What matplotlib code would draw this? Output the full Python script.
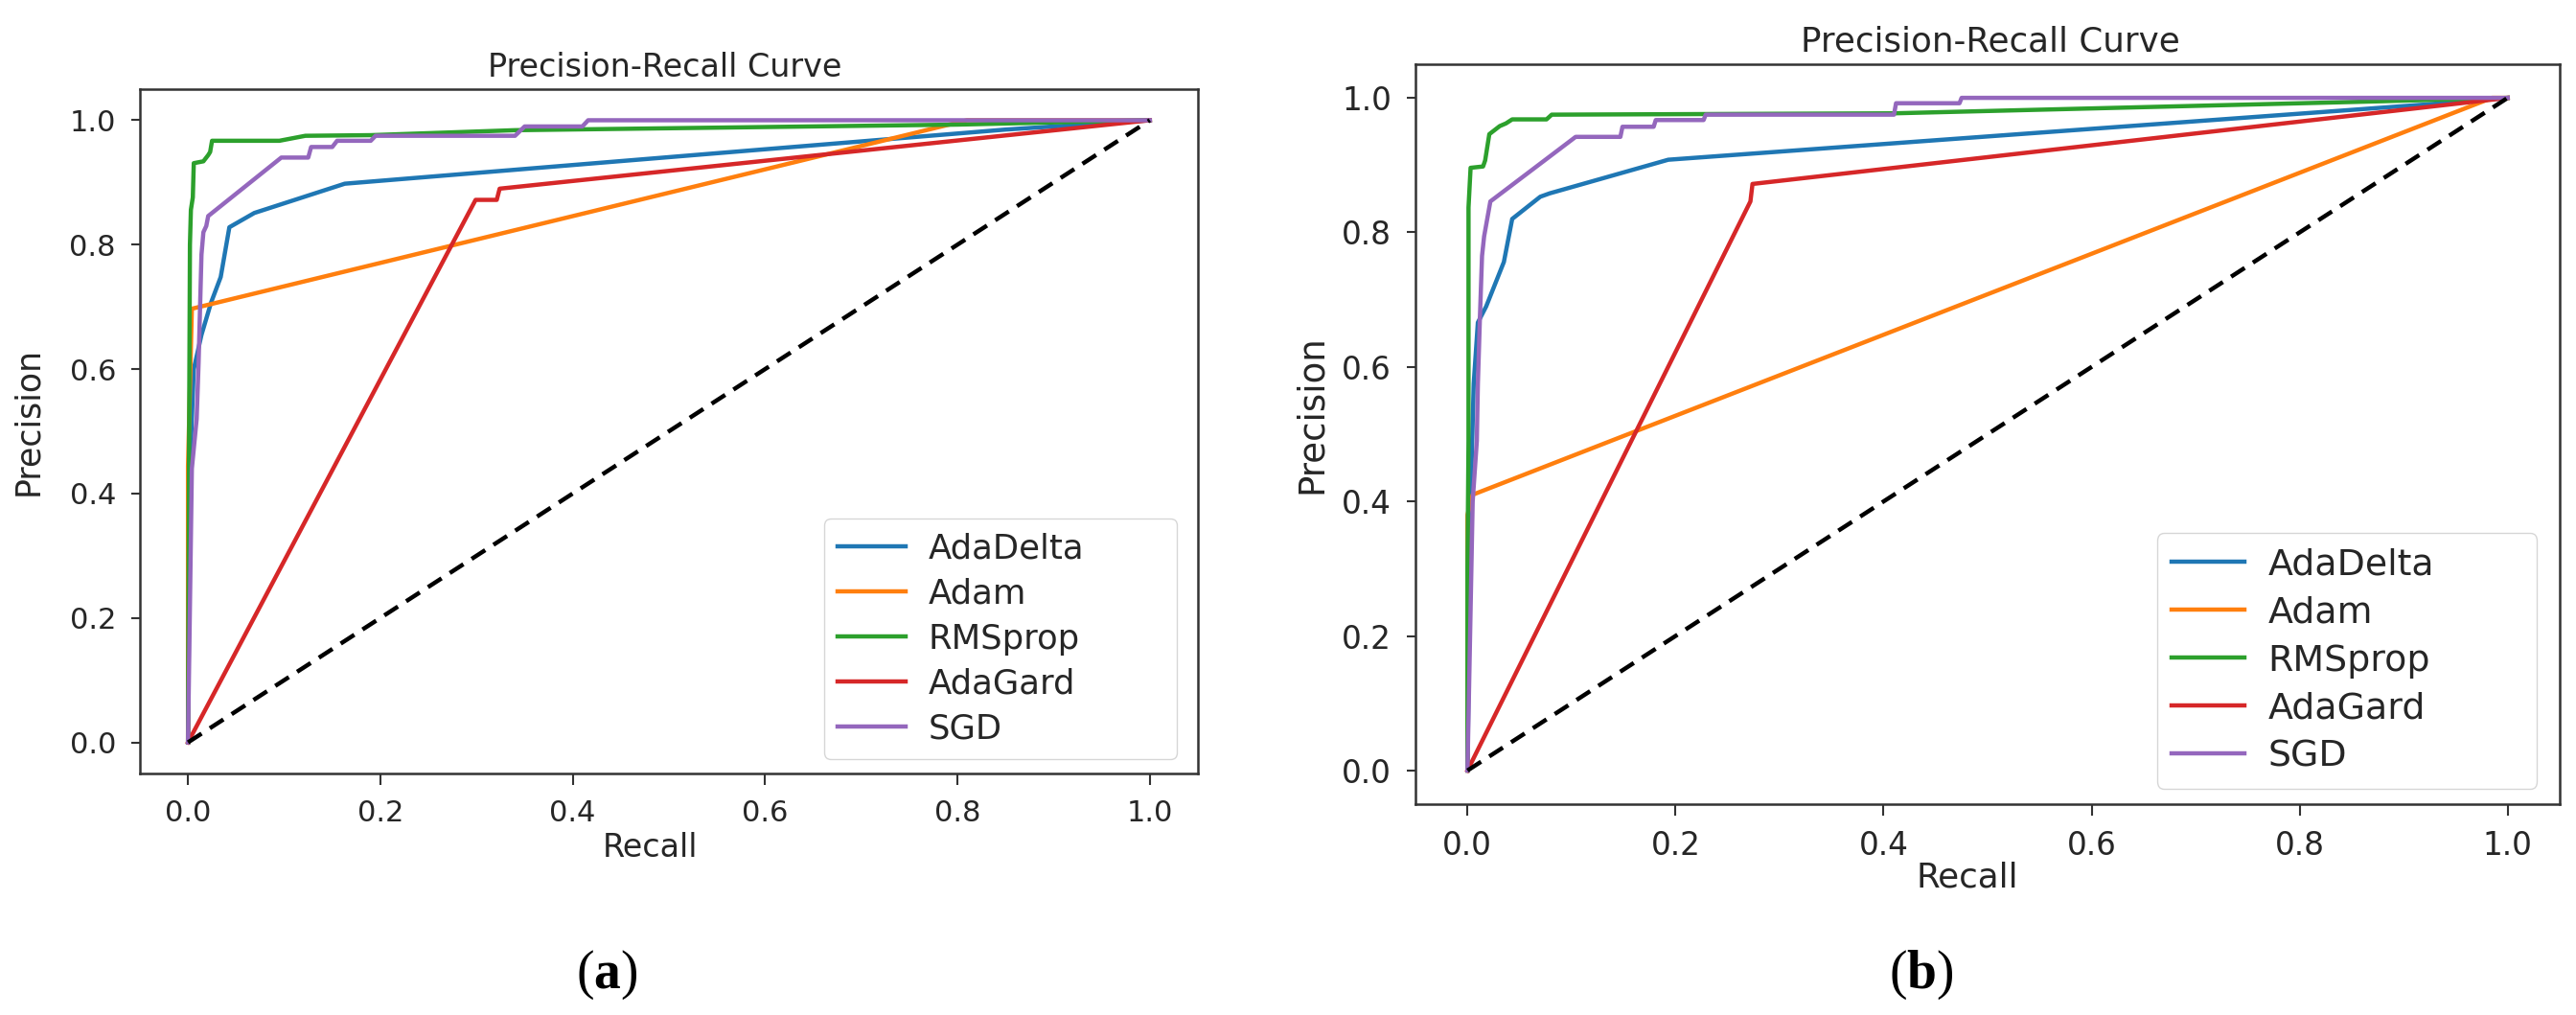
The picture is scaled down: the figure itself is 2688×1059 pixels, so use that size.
import matplotlib.pyplot as plt

# optimizer names and default matplotlib cycle colours
labels = ['AdaDelta', 'Adam', 'RMSprop', 'AdaGard', 'SGD']
colors = ['#1f77b4', '#ff7f0e', '#2ca02c', '#d62728', '#9467bd']

# panel (a): recall / precision
a_adadelta_recall = [0, 0.002, 0.006, 0.014, 0.024, 0.034, 0.043, 0.069, 0.163, 0.85, 1.0]
a_adadelta_prec = [0, 0.44, 0.60, 0.655, 0.707, 0.748, 0.828, 0.851, 0.898, 0.985, 1.0]
a_adam_recall = [0, 0.0, 0.004, 0.81, 1.0]
a_adam_prec = [0, 0.444, 0.697, 1.0, 1.0]
a_rmsprop_recall = [0, 0.001, 0.002, 0.003, 0.005, 0.006, 0.016, 0.021, 0.023, 0.025,
                    0.095, 0.122, 0.19, 0.34, 0.80, 1.0]
a_rmsprop_prec = [0, 0.44, 0.80, 0.856, 0.876, 0.931, 0.934, 0.944, 0.949, 0.967,
                  0.967, 0.975, 0.976, 0.984, 0.993, 1.0]
a_adagard_recall = [0, 0.299, 0.321, 0.324, 1.0]
a_adagard_prec = [0, 0.872, 0.872, 0.890, 1.0]
a_sgd_recall = [0, 0.004, 0.009, 0.011, 0.014, 0.016, 0.019, 0.021, 0.097, 0.125, 0.128,
                0.15, 0.155, 0.19, 0.195, 0.34, 0.35, 0.41, 0.416, 1.0]
a_sgd_prec = [0, 0.44, 0.52, 0.61, 0.784, 0.82, 0.83, 0.846, 0.94, 0.94, 0.957,
              0.957, 0.967, 0.967, 0.975, 0.975, 0.99, 0.99, 1.0, 1.0]

# panel (b)
b_adadelta_recall = [0, 0.003, 0.006, 0.01, 0.018, 0.035, 0.043, 0.070, 0.079, 0.193, 0.92, 1.0]
b_adadelta_prec = [0, 0.40, 0.575, 0.666, 0.69, 0.756, 0.82, 0.853, 0.858, 0.908, 0.99, 1.0]
b_adam_recall = [0, 0.0, 0.005, 0.985, 1.0]
b_adam_prec = [0, 0.38, 0.41, 1.0, 1.0]
b_rmsprop_recall = [0, 0.0, 0.001, 0.001, 0.003, 0.015, 0.017, 0.021, 0.031, 0.037,
                    0.043, 0.076, 0.081, 0.41, 0.88, 1.0]
b_rmsprop_prec = [0, 0.30, 0.49, 0.837, 0.896, 0.898, 0.907, 0.946, 0.958, 0.962,
                  0.968, 0.968, 0.975, 0.977, 0.995, 1.0]
b_adagard_recall = [0, 0.272, 0.274, 1.0]
b_adagard_prec = [0, 0.846, 0.872, 1.0]
b_sgd_recall = [0, 0.005, 0.009, 0.010, 0.012, 0.014, 0.016, 0.022, 0.104, 0.147, 0.149,
                0.179, 0.181, 0.227, 0.229, 0.41, 0.412, 0.473, 0.475, 1.0]
b_sgd_prec = [0, 0.40, 0.49, 0.575, 0.675, 0.765, 0.794, 0.846, 0.942, 0.942, 0.957,
              0.957, 0.967, 0.967, 0.975, 0.975, 0.992, 0.992, 1.0, 1.0]

ticks = [0.0, 0.2, 0.4, 0.6, 0.8, 1.0]

W, H = 2688, 1059
TXT = '#262626'


def fx(px):
    return px / W


def fy(py):
    return 1 - py / H


def draw_panel(fig, rect, curves, s, leg_box, title_xy, xlabel_xy, ylabel_xy, tag, tag_xy):
    ax = fig.add_axes(rect)
    for (r, p), lab, c in zip(curves, labels, colors):
        ax.plot(r, p, color=c, lw=3.2, label=lab)
    ax.plot([0, 1], [0, 1], color='black', lw=3.2, linestyle='--', dashes=(3.8, 2.3))
    ax.set_xlim(-0.05, 1.05)
    ax.set_ylim(-0.05, 1.05)
    ax.set_xticks(ticks)
    ax.set_yticks(ticks)
    ax.tick_params(labelsize=22 * s, width=1.5, colors='#333333', labelcolor=TXT)
    ax.tick_params(axis='x', length=8.5, pad=11)
    ax.tick_params(axis='y', length=6.5, pad=11.5)
    for sp in ax.spines.values():
        sp.set_linewidth(1.8)
        sp.set_color('#333333')
    # legend frame is wider than its text in the reference, so stretch it to the box
    leg = ax.legend(loc='lower left', bbox_to_anchor=leg_box, mode='expand',
                    fontsize=25.5 * s, labelspacing=0.37, handletextpad=0.65,
                    borderaxespad=0, borderpad=0.4)
    for t in leg.get_texts():
        t.set_color(TXT)
    fig.text(fx(title_xy[0]), fy(title_xy[1]), 'Precision-Recall Curve', fontsize=24 * s,
             color=TXT, ha='center', va='center')
    fig.text(fx(xlabel_xy[0]), fy(xlabel_xy[1]), 'Recall', fontsize=24 * s,
             color=TXT, ha='center', va='center')
    fig.text(fx(ylabel_xy[0]), fy(ylabel_xy[1]), 'Precision', fontsize=25 * s,
             color=TXT, ha='center', va='center', rotation=90)
    fig.text(fx(tag_xy[0]), fy(tag_xy[1]), '(' + r'$\mathbf{' + tag + '}$' + ')',
             fontsize=40, family='Liberation Serif', color='black', ha='center', va='center')
    return ax


plt.rcParams['mathtext.fontset'] = 'custom'
plt.rcParams['mathtext.bf'] = 'Liberation Serif:bold'
plt.rcParams['mathtext.rm'] = 'Liberation Serif'

fig = plt.figure(figsize=(W / 100, H / 100), dpi=100)

curves_a = [(a_adadelta_recall, a_adadelta_prec), (a_adam_recall, a_adam_prec),
            (a_rmsprop_recall, a_rmsprop_prec), (a_adagard_recall, a_adagard_prec),
            (a_sgd_recall, a_sgd_prec)]
curves_b = [(b_adadelta_recall, b_adadelta_prec), (b_adam_recall, b_adam_prec),
            (b_rmsprop_recall, b_rmsprop_prec), (b_adagard_recall, b_adagard_prec),
            (b_sgd_recall, b_sgd_prec)]

draw_panel(fig, [fx(146), fy(807), fx(1250 - 146), (807 - 93) / H], curves_a, 1.0,
           (0.647, 0.021, 0.333, 0.36),
           (694, 70), (678, 885), (29, 439), 'a', (633, 1017))
draw_panel(fig, [fx(1477), fy(839), fx(2671 - 1477), (839 - 67) / H], curves_b, 1.07,
           (0.648, 0.021, 0.332, 0.36),
           (2077, 43), (2053, 916), (1368, 432), 'b', (2005, 1017))

fig.savefig('out.png', dpi=100, facecolor='white')
